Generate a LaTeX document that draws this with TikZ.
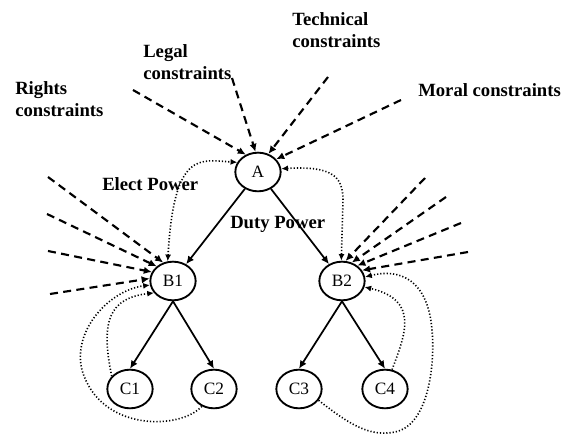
\documentclass[tikz,border=0pt]{standalone}
\usepackage{fontspec}
\setmainfont{Liberation Serif}
\usetikzlibrary{arrows.meta,shapes.geometric}
\tikzset{
  agent/.style={draw,ellipse,line width=1.4pt,minimum width=34pt,
    minimum height=29pt,inner sep=0pt,font=\fontsize{13}{15}\selectfont},
  duty/.style={-{Latex[length=6pt,width=5.5pt]},line width=1.3pt},
  constraint/.style={-{Latex[length=6pt,width=5.5pt]},line width=1.6pt,
    dash pattern=on 6pt off 4pt},
  feedback/.style={line width=1.2pt,dash pattern=on 0.9pt off 1.5pt},
  Fb/.tip={Latex[length=5pt,width=4.5pt]},
  remark/.style={anchor=north west,inner sep=0pt,align=left,
    font=\bfseries\fontsize{14}{16.5}\selectfont}
}
\begin{document}
\begin{tikzpicture}[x=0.75pt,y=-0.75pt]
  \useasboundingbox (0,0) rectangle (568,434);
  % agents
  \node[agent] (A) at (258,172) {A};
  \node[agent] (B1) at (173,281) {B1};
  \node[agent] (B2) at (342,281) {B2};
  \foreach \n/\x in {C1/130,C2/214,C3/299,C4/385}{
    \node[agent] (\n) at (\x,389) {\n};
  }
  % texts
  \node[remark] (rights) at (15,81) {Rights\\constraints};
  \node[remark] (legal) at (143,44) {Legal\\constraints};
  \node[remark] (technical) at (292,12) {Technical\\constraints};
  \node[remark] (moral) at (418,83) {Moral constraints};
  \node[remark] (elect) at (102,177) {Elect Power};
  \node[remark] (duty) at (230,216) {Duty Power};
  % constraints on A
  \foreach \n/\x/\y/\a in {rc/133/90/125,lc/232/78/97,tc/328/77/60,mc/401/100/35}{
    \coordinate (\n) at (\x,\y);
    \draw[constraint] (\n) -- (A.\a);
  }
  % constraints on B1 and B2
  \foreach \i/\x/\y/\a in {1/48/177/118,2/47/214/138,3/48/251/157,4/50/294/174}{
    \coordinate (l\i) at (\x,\y);
    \draw[constraint] (l\i) -- (B1.\a);
  }
  \foreach \i/\x/\y/\a in {1/425/178/80,2/446/197/62,3/461/223/45,4/468/252/28}{
    \coordinate (r\i) at (\x,\y);
    \draw[constraint] (r\i) -- (B2.\a);
  }
  % duty power
  \draw[duty] (A) -- (B1);
  \draw[duty] (A) -- (B2);
  \foreach \b/\c in {B1/C1,B1/C2,B2/C3,B2/C4}{
    \draw[duty] (\b.south) -- (\c.north);
  }
  % elect power
  \draw[feedback,Fb-Fb] (B1.105) .. controls (174,150) and (200,160) .. (A.155);
  \draw[feedback,Fb-Fb] (A.8) .. controls (330,166) and (343,175) .. (343,200) -- (B2.92);
  \draw[feedback,-Fb] (C1.145) .. controls (100,320) and (110,298) .. (B1.212);
  \draw[feedback,-Fb] (C2.235) .. controls (180,430) and (100,432) .. (82,370)
    .. controls (72,330) and (110,290) .. (B1.190);
  \draw[feedback,-Fb] (C3.-30) .. controls (350,425) and (370,437) .. (395,432)
    .. controls (430,425) and (435,360) .. (432,330)
    .. controls (428,280) and (400,268) .. (B2.10);
  \draw[feedback,-Fb] (C4.70) .. controls (405,335) and (420,300) .. (B2.-15);
\end{tikzpicture}
\end{document}
